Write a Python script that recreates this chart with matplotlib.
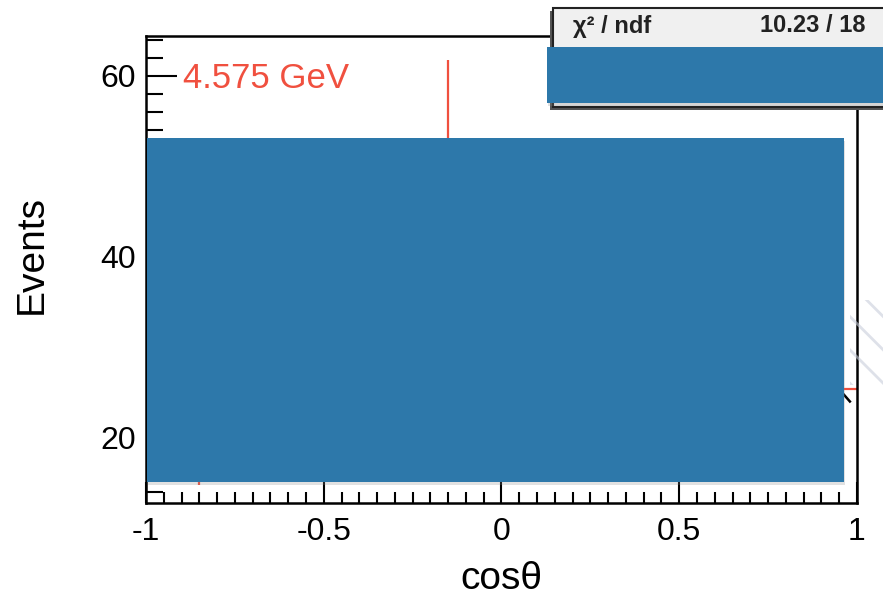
import matplotlib
matplotlib.use("Agg")
import matplotlib.pyplot as plt
from matplotlib.patches import Rectangle
from matplotlib.ticker import MultipleLocator
import numpy as np

plt.rcParams['font.family'] = ['Liberation Sans', 'DejaVu Sans']
plt.rcParams['hatch.linewidth'] = 2.0

# angular distribution, 20 bins in cos(theta)
bin_centers = [-0.95, -0.85, -0.75, -0.65, -0.55, -0.45, -0.35, -0.25, -0.15, -0.05,
               0.05, 0.15, 0.25, 0.35, 0.45, 0.55, 0.65, 0.75, 0.85, 0.95]
counts = [27, 19.2, 35, 33, 41, 38, 46, 42, 52.4, 44,
          45, 43, 46, 40, 42, 37, 33, 30, 28, 25.4]
count_errs = [5.2, 4.4, 5.9, 5.7, 6.4, 6.2, 6.8, 6.5, 9.4, 6.6,
              6.7, 6.6, 6.8, 6.3, 6.5, 6.1, 5.7, 5.5, 5.3, 5.0]
bin_half_width = 0.05

# fit  N * (1 + alpha * cos^2)
fit_norm = 46.2
fit_alpha = -0.5
fit_range = (-1.0, 0.98)
chi2_text = "10.23 / 18"
energy_label = "4.575 GeV"

red = '#f0503f'

fig = plt.figure(figsize=(8.83, 6.05), dpi=100)
ax = fig.add_axes([146 / 883, 1 - 503 / 605, 711 / 883, 467 / 605])

ax.errorbar(bin_centers, counts, yerr=count_errs, xerr=bin_half_width,
            fmt='none', ecolor=red, elinewidth=1.6, capsize=0)

xs = np.linspace(fit_range[0], fit_range[1], 300)
ax.plot(xs, fit_norm * (1 + fit_alpha * xs ** 2), color='black', lw=1.8)

ax.set_xlim(-1, 1)
ax.set_ylim(12.8, 64.4)
ax.xaxis.set_minor_locator(MultipleLocator(0.05))
ax.yaxis.set_major_locator(MultipleLocator(20))
ax.yaxis.set_minor_locator(MultipleLocator(2))
ax.set_xticks([-1, -0.5, 0, 0.5, 1])
ax.set_xticklabels(['-1', '-0.5', '0', '0.5', '1'])
ax.tick_params(which='both', direction='in', top=False, right=False,
               width=1.5, labelsize=23)
ax.tick_params(axis='x', which='major', length=15, pad=10)
ax.tick_params(axis='x', which='minor', length=8)
ax.tick_params(axis='y', which='major', length=22, pad=7)
ax.tick_params(axis='y', which='minor', length=12)
for sp in ax.spines.values():
    sp.set_linewidth(1.8)

ax.set_xlabel("cosθ", fontsize=28, labelpad=10)
fig.text(32 / 883, 1 - 255 / 605, "Events", rotation=90, fontsize=28,
         ha='center', va='center')

ax.text(0.052, 0.91, energy_label, transform=ax.transAxes, color=red,
        fontsize=25, va='center', ha='left')

# stats box (top right, partly outside)
fig.add_artist(Rectangle((553 / 883 - 0.003, 1 - 110 / 605), 0.45, 0.163,
                         transform=fig.transFigure, facecolor='#555555',
                         edgecolor='none', zorder=5))
fig.add_artist(Rectangle((553 / 883, 1 - 107 / 605), 0.45, 0.1636,
                         transform=fig.transFigure, facecolor='#f0f0f0',
                         edgecolor='#222222', lw=1.5, zorder=5.1))
fig.text(573 / 883, 1 - 26 / 605, "χ² / ndf", fontsize=17, fontweight='bold',
         ha='left', va='center', zorder=6, color='#222222')
fig.text(865 / 883, 1 - 26 / 605, chi2_text, fontsize=17, fontweight='bold',
         ha='right', va='center', zorder=6, color='#222222')

# faint hatching at the right edge
fig.add_artist(Rectangle((850 / 883, 1 - 385 / 605), 0.04, 0.14,
                         transform=fig.transFigure, facecolor='none',
                         edgecolor='#c8cedb', hatch='\\', lw=0, alpha=0.6,
                         zorder=1))

# blue cover boxes
blue = '#2d78aa'
boxes = [(147, 138, 844, 482), (547, 47, 890, 103)]
for x0, y0, x1, y1 in boxes:
    fig.add_artist(Rectangle((x0 / 883 + 0.001, 1 - (y1 + 3) / 605),
                             (x1 - x0) / 883, (y1 - y0) / 605,
                             transform=fig.transFigure, facecolor='#888888',
                             alpha=0.25, edgecolor='none', zorder=9))
    fig.add_artist(Rectangle((x0 / 883, 1 - y1 / 605),
                             (x1 - x0) / 883, (y1 - y0) / 605,
                             transform=fig.transFigure, facecolor=blue,
                             edgecolor='none', zorder=10))

fig.savefig("out.png", dpi=100)
